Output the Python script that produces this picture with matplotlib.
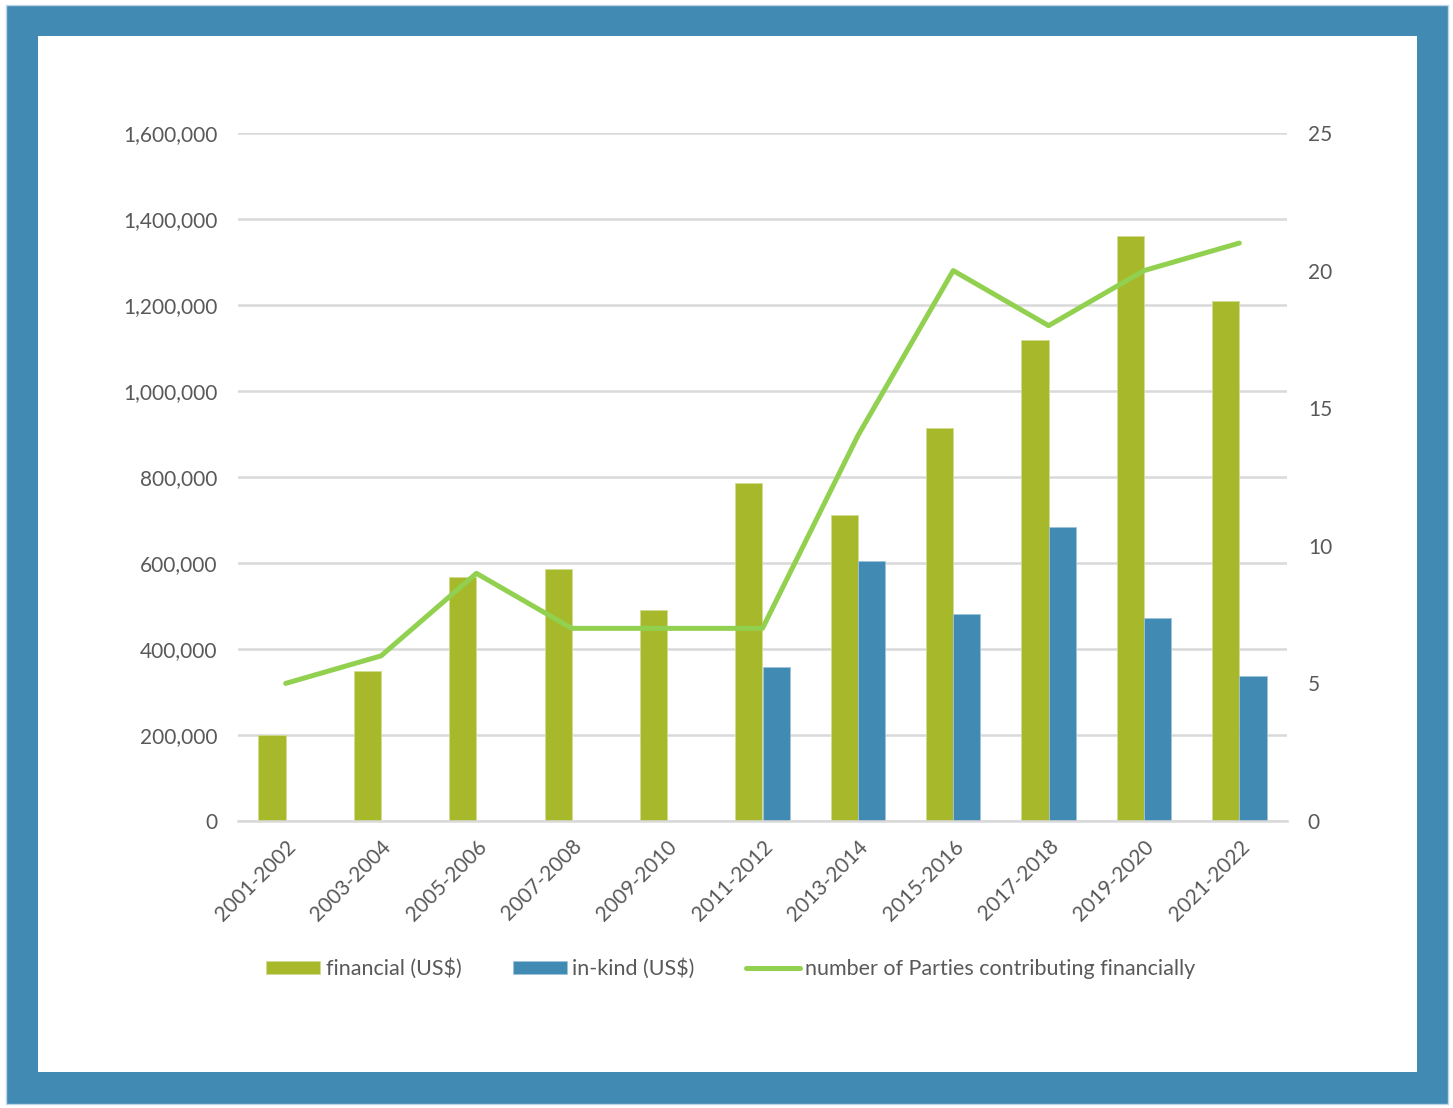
import matplotlib
matplotlib.use("Agg")
import matplotlib.pyplot as plt
from matplotlib.patches import Rectangle
from matplotlib.ticker import FuncFormatter
import numpy as np

periods = ["2001-2002", "2003-2004", "2005-2006", "2007-2008", "2009-2010",
           "2011-2012", "2013-2014", "2015-2016", "2017-2018", "2019-2020",
           "2021-2022"]
financial = [201000, 349000, 567000, 585000, 491000, 785000, 712000,
             914000, 1118000, 1360000, 1210000]
in_kind = [0, 0, 0, 0, 0, 357000, 604000, 481000, 683000, 472000, 337000]
parties = [5, 6, 9, 7, 7, 7, 14, 20, 18, 20, 21]

GREEN = "#A7B92A"
BLUE = "#418AB3"
LINE = "#92D050"
TEXT = "#595959"
GRID = "#D9D9D9"

plt.rcParams["font.family"] = ["Lato", "DejaVu Sans"]

fig = plt.figure(figsize=(14.53, 11.08), dpi=100)
W, H = 1453, 1108

# blue picture frame, kept under the axes
fig.patches.append(Rectangle((6 / W, 1 - 1104 / H), (1448 - 6) / W, (1104 - 5) / H,
                             transform=fig.transFigure, facecolor=BLUE,
                             edgecolor="#BFD6E6", linewidth=1, zorder=-10))
fig.patches.append(Rectangle((38 / W, 1 - 1072 / H), (1417 - 38) / W, (1072 - 36) / H,
                             transform=fig.transFigure, facecolor="white",
                             edgecolor="none", zorder=-9))

ax = fig.add_axes([238 / W, 1 - 821 / H, (1287 - 238) / W, (821 - 133) / H])
ax.set_facecolor("none")
x = np.arange(len(periods))
w = 1 / 3.5

ax.bar(x - w / 2, financial, w, color=GREEN, edgecolor="#D3DC95", linewidth=0.6,
       label="financial (US$)", zorder=2)
ax.bar(x + w / 2, in_kind, w, color=BLUE, edgecolor="#9EC4DA", linewidth=0.6,
       label="in-kind (US$)", zorder=2)

ax.set_xlim(-0.5, len(periods) - 0.5)
ax.set_ylim(0, 1600000)
ax.set_yticks(np.arange(0, 1600001, 200000))
ax.yaxis.set_major_formatter(FuncFormatter(lambda v, _: f"{int(v):,}"))
ax.grid(axis="y", color=GRID, linewidth=1.8, zorder=0)
ax.set_axisbelow(True)
for s in ["top", "right", "left"]:
    ax.spines[s].set_visible(False)
ax.spines["bottom"].set_color(GRID)
ax.spines["bottom"].set_linewidth(1.8)
ax.tick_params(axis="both", length=0, colors=TEXT, labelsize=15)
ax.tick_params(axis="y", pad=15)
ax.set_xticks(x)
ax.set_xticklabels(periods, rotation=45, ha="right", rotation_mode="anchor")
ax.tick_params(axis="x", pad=11)

ax2 = ax.twinx()
ax2.plot(x, parties, color=LINE, linewidth=3.6, solid_capstyle="round",
         solid_joinstyle="round", label="number of Parties contributing financially",
         zorder=3)
ax2.set_ylim(0, 25)
ax2.set_yticks(range(0, 26, 5))
for s in ax2.spines.values():
    s.set_visible(False)
ax2.tick_params(axis="y", length=0, colors=TEXT, labelsize=15, pad=15)

h1, l1 = ax.get_legend_handles_labels()
h2, l2 = ax2.get_legend_handles_labels()
fig.legend(h1 + h2, l1 + l2, loc="center", bbox_to_anchor=(731 / W, 1 - 969 / H),
           ncol=3, frameon=False, fontsize=15.5, labelcolor=TEXT,
           handlelength=2.5, handleheight=0.55, handletextpad=0.25,
           columnspacing=2.4)

fig.savefig("out.png", dpi=100)
